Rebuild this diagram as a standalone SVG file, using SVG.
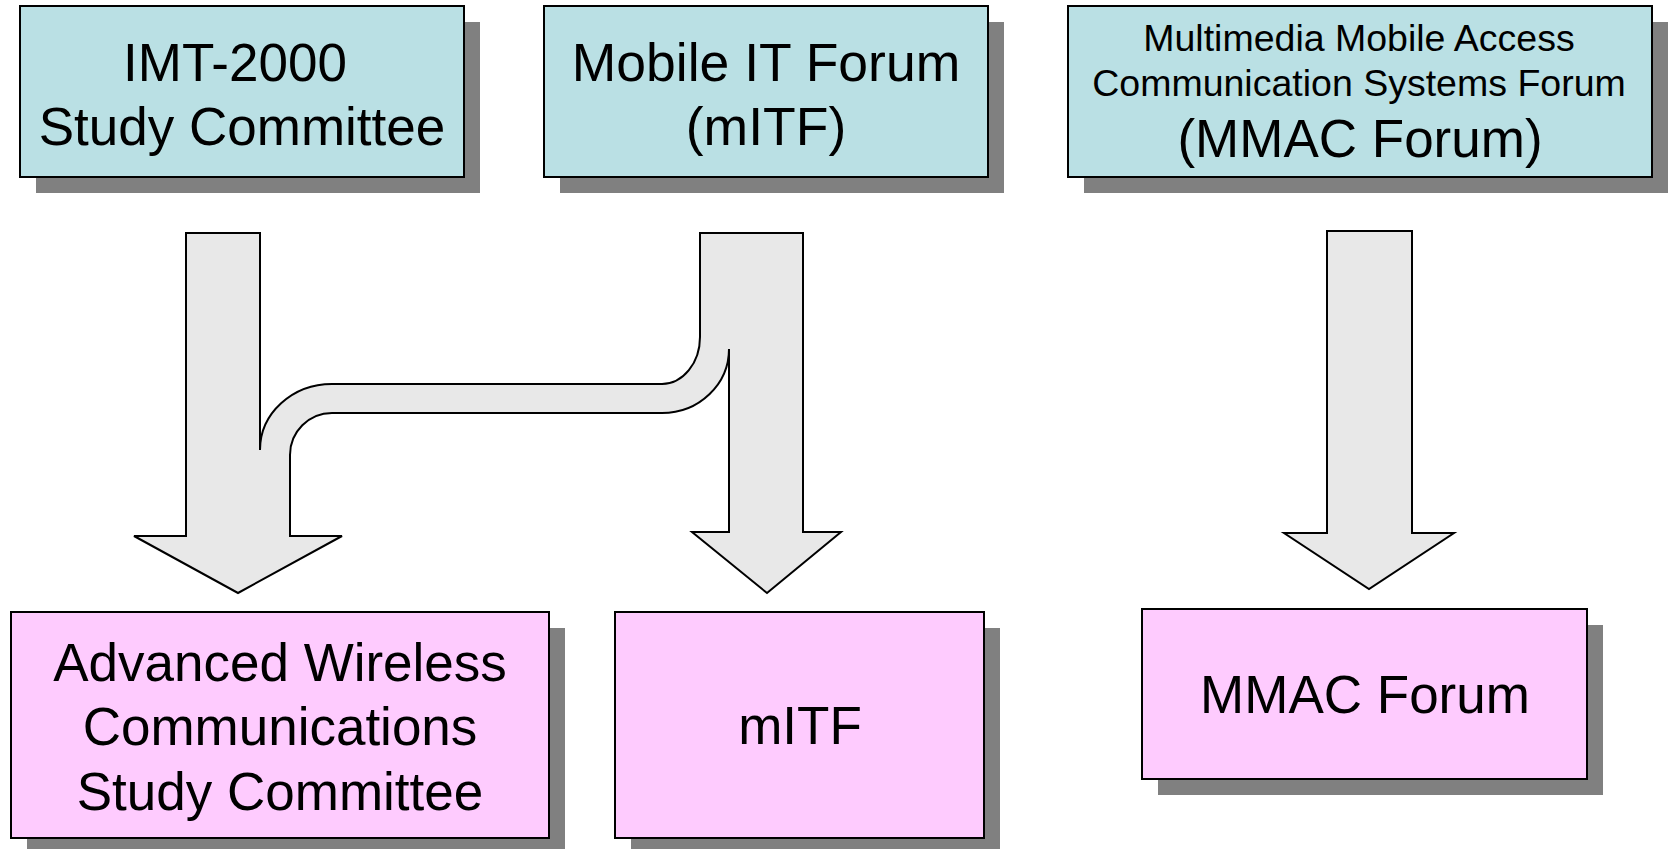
<svg xmlns="http://www.w3.org/2000/svg" width="1668" height="849" viewBox="0 0 1668 849">
<style>
.shadow{fill:#808080}
.top{fill:#BAE0E4;stroke:#000;stroke-width:2}
.bot{fill:#FECBFE;stroke:#000;stroke-width:2}
.arrow{fill:#E8E8E8;stroke:#000;stroke-width:2;stroke-linejoin:miter}
text{font-family:"Liberation Sans",Arial,sans-serif;fill:#000;text-anchor:middle}
.f53{font-size:53px}
.f54{font-size:53.5px}
.f37{font-size:37.5px}
</style>
<rect width="1668" height="849" fill="#fff"/>
<g id="connectors">
<path class="arrow" d="M186,233 L260,233 L260,450 A72,66 0 0 1 332,384 L662,384 A38,47 0 0 0 700,337 L700,233 L803,233 L803,532 L841,532 L767,593 L692,532 L729,532 L729,349 A67,64 0 0 1 662,413 L332,413 A42,42 0 0 0 290,455 L290,536 L342,536 L238,593 L134,536 L186,536 Z"/>
<path class="arrow" d="M1327,231 L1412,231 L1412,533 L1454,533 L1369,589 L1284,533 L1327,533 Z"/>
</g>
<g id="imt2000">
<rect class="shadow" x="36" y="22" width="444" height="171"/>
<rect class="top" x="20" y="6" width="444" height="171"/>
<text class="f53" x="235" y="81">IMT-2000</text>
<text class="f53" x="242" y="145">Study Committee</text>
</g>
<g id="mitf-top">
<rect class="shadow" x="560" y="22" width="444" height="171"/>
<rect class="top" x="544" y="6" width="444" height="171"/>
<text class="f54" x="766" y="81">Mobile IT Forum</text>
<text class="f54" x="766" y="145">(mITF)</text>
</g>
<g id="mmac-top">
<rect class="shadow" x="1084" y="22" width="584" height="171"/>
<rect class="top" x="1068" y="6" width="584" height="171"/>
<text class="f37" x="1359" y="51">Multimedia Mobile Access</text>
<text class="f37" x="1359" y="96">Communication Systems Forum</text>
<text class="f53" x="1360" y="157">(MMAC Forum)</text>
</g>
<g id="awc">
<rect class="shadow" x="27" y="628" width="538" height="226"/>
<rect class="bot" x="11" y="612" width="538" height="226"/>
<text class="f53" x="280" y="681">Advanced Wireless</text>
<text class="f53" x="280" y="745">Communications</text>
<text class="f53" x="280" y="810">Study Committee</text>
</g>
<g id="mitf-bottom">
<rect class="shadow" x="631" y="628" width="369" height="226"/>
<rect class="bot" x="615" y="612" width="369" height="226"/>
<text class="f53" x="800" y="744">mITF</text>
</g>
<g id="mmac-bottom">
<rect class="shadow" x="1158" y="625" width="445" height="170"/>
<rect class="bot" x="1142" y="609" width="445" height="170"/>
<text class="f53" x="1365" y="713">MMAC Forum</text>
</g>
</svg>
